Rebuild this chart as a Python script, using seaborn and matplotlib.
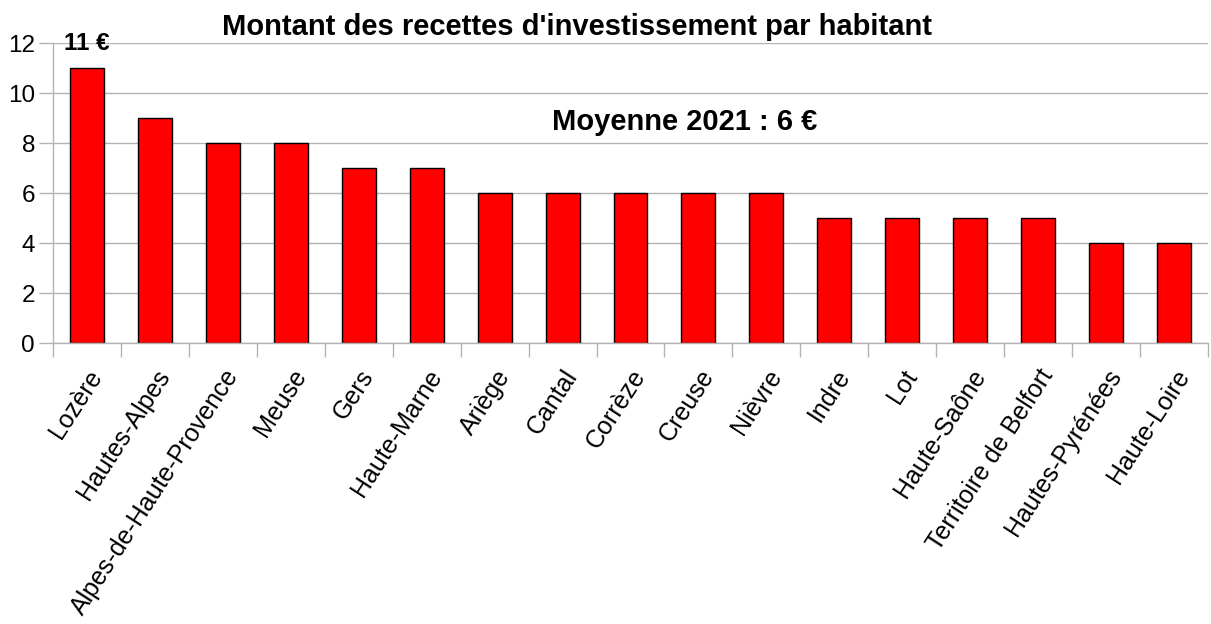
import matplotlib
matplotlib.use('Agg')
import matplotlib.pyplot as plt
import pandas as pd
import seaborn as sns

departements = ["Lozère", "Hautes-Alpes", "Alpes-de-Haute-Provence", "Meuse", "Gers",
                "Haute-Marne", "Ariège", "Cantal", "Corrèze", "Creuse", "Nièvre",
                "Indre", "Lot", "Haute-Saône", "Territoire de Belfort",
                "Hautes-Pyrénées", "Haute-Loire"]
montants = [11, 9, 8, 8, 7, 7, 6, 6, 6, 6, 6, 5, 5, 5, 5, 4, 4]
moyenne = 6

sns.set_theme(style="whitegrid")
plt.rcParams['font.family'] = ['Liberation Sans', 'DejaVu Sans']
plt.rcParams['text.color'] = 'black'
plt.rcParams['xtick.color'] = 'black'
plt.rcParams['ytick.color'] = 'black'

df = pd.DataFrame({'departement': departements, 'montant': montants})

fig = plt.figure(figsize=(12.11, 6.24), dpi=100)
ax = fig.add_axes([53 / 1211, 1 - 343 / 624, 1155 / 1211, 300 / 624])

sns.barplot(data=df, x='departement', y='montant', color='#ff0000',
            width=0.5, edgecolor='black', linewidth=1, saturation=1, ax=ax)

ax.set_ylim(0, 12)
ax.set_xlim(-0.5, len(departements) - 0.5)
ax.set_yticks(range(0, 13, 2))
ax.grid(axis='y', color='#b3b3b3', linewidth=1)
ax.grid(axis='x', visible=False)
ax.set_axisbelow(True)
for side in ['top', 'right']:
    ax.spines[side].set_visible(False)
for side in ['left', 'bottom']:
    ax.spines[side].set_visible(True)
    ax.spines[side].set_color('#b3b3b3')
    ax.spines[side].set_linewidth(1)

ax.set_xticks([i + 0.5 for i in range(-1, len(departements))], minor=True)
ax.tick_params(axis='x', which='minor', length=10, color='#b3b3b3', width=1, bottom=True)
ax.tick_params(axis='x', which='major', length=0, labelsize=18, pad=16,
               labelcolor='black')
ax.tick_params(axis='y', length=10, color='#b3b3b3', width=1, left=True, labelsize=17.5,
               pad=3, labelcolor='black')
ax.set_xticks(range(len(departements)))
ax.set_xticklabels(departements, rotation=57, ha='right', rotation_mode='anchor')
ax.set_xlabel('')
ax.set_ylabel('')

ax.text(0, 11.5, "11 €", ha='center', va='bottom', fontsize=17.5, fontweight='bold')
ax.text(8.8, 8.85, f"Moyenne 2021 : {moyenne} €", ha='center', va='center',
        fontsize=21, fontweight='bold')

fig.text(577 / 1211, 1 - 27 / 624, "Montant des recettes d'investissement par habitant",
         ha='center', va='center', fontsize=21, fontweight='bold')

fig.savefig("out.png", dpi=100)
plt.close(fig)
